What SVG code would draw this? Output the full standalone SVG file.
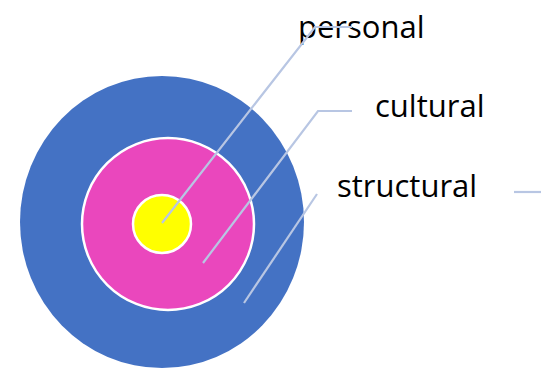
<svg xmlns="http://www.w3.org/2000/svg" width="541" height="369" viewBox="0 0 541 369">
<style>
.lbl{font-family:"Open Sans","Liberation Sans",sans-serif;font-size:31px;fill:#000}
.conn{fill:none;stroke:#b8c6e3;stroke-width:2.2}
.ring{stroke:#ffffff;stroke-width:2.5}
</style>
<rect width="541" height="369" fill="#ffffff"/>
<g id="structural">
<ellipse cx="162" cy="222" rx="142" ry="146" fill="#4472c4"/>
<text class="lbl" x="337" y="197">structural</text>
</g>
<g id="cultural">
<circle class="ring" cx="168" cy="224" r="86" fill="#ea47bd"/>
<text class="lbl" x="375" y="117">cultural</text>
</g>
<g id="personal">
<circle class="ring" cx="162" cy="224" r="29" fill="#ffff00"/>
<text class="lbl" x="298" y="38">personal</text>
</g>
<g id="connectors">
<polyline class="conn" points="162,223 315,27 352,27"/>
<polyline class="conn" points="203,263 318,111 352,111"/>
<polyline class="conn" points="244,303 317,194"/>
<line class="conn" x1="514" y1="192" x2="541" y2="192"/>
</g>
</svg>
